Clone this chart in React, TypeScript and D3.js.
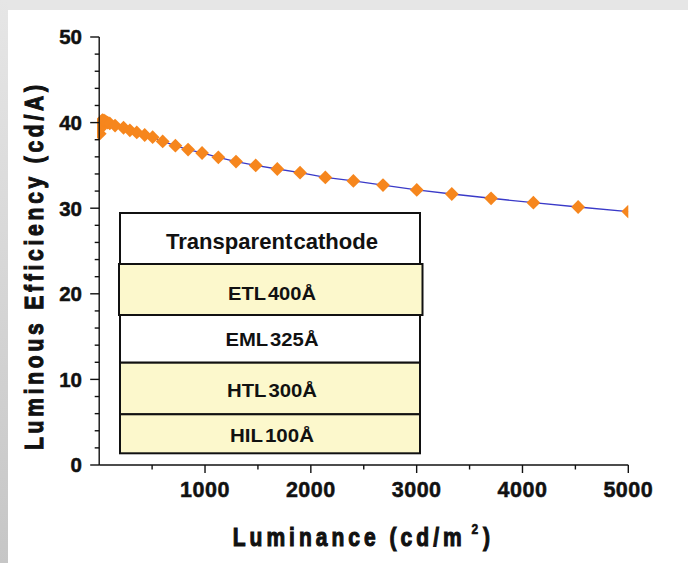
import React from "react";
import * as d3 from "d3";

// Luminous efficiency vs. luminance of a top-emitting device
const luminance = [
  5, 10, 15, 20, 30, 45, 60, 80, 100, 150, 230, 290, 355, 430, 505, 600, 720,
  840, 972, 1126, 1293, 1479, 1683, 1898, 2137, 2402, 2682, 3001, 3332, 3703,
  4103, 4526, 5000,
];
const efficiency = [
  38.7, 39.3, 39.8, 40.1, 40.3, 40.25, 40.15, 40.0, 39.9, 39.65, 39.4, 39.1,
  38.85, 38.55, 38.3, 37.8, 37.3, 36.85, 36.45, 35.95, 35.45, 35.0, 34.58,
  34.15, 33.6, 33.18, 32.7, 32.13, 31.66, 31.16, 30.64, 30.14, 29.6,
];
const yTicks = [0, 10, 20, 30, 40, 50];
const xTicks = [1000, 2000, 3000, 4000, 5000];

// Device stack (top to bottom)
const layerNames = ["Transparent cathode", "ETL 400Å", "EML 325Å", "HTL 300Å", "HIL 100Å"];
const layerShaded = [false, true, false, true, true];

const W = 688;
const H = 563;

export default function App() {
  const x = d3.scaleLinear().domain([0, 5000]).range([99.2, 628.3]);
  const y = d3.scaleLinear().domain([0, 50]).range([465, 37]);

  const pts: [number, number][] = luminance.map((l, i) => [x(l), y(efficiency[i])]);
  const linePath = d3.line()(pts) || "";
  const marker = d3.symbol(d3.symbolSquare, 95)() || "";

  const yMinor = d3.range(0, 50.001, 2).filter((v) => v % 10 !== 0);
  const xMinor = d3.range(500, 5000, 1000);

  // inset geometry
  const rowEdges = [213, 264, 315, 362.7, 414.3, 453.3];
  const rowLeft = [120, 119, 120, 120, 120];
  const rowRight = [420, 422.5, 420, 420, 420];
  const labelBase = [249.3, 300, 346, 396.7, 441.7];
  const labelWidth = [212, 88, 93, 90, 84];
  const labelSize = [22, 18, 18, 18, 18];

  const font = "'Liberation Sans', Arial, sans-serif";
  const heavy = { stroke: "#111", strokeWidth: 0.5, fill: "#111" };
  const heavier = { stroke: "#111", strokeWidth: 0.9, fill: "#111" };

  return (
    <div style={{ position: "absolute", left: 0, top: 0 }}>
      <svg width={W} height={H} style={{ display: "block" }}>
        <defs>
          <linearGradient id="edgeShade" x1="0" y1="0" x2="0" y2="1">
            <stop offset="0" stopColor="#e6e6e6" />
            <stop offset="1" stopColor="#c6c6c6" />
          </linearGradient>
          <clipPath id="plotClip">
            <rect x={97} y={20} width={x(5000) - 97} height={460} />
          </clipPath>
        </defs>
        <rect x={0} y={0} width={W} height={H} fill="#e6e6e6" />
        <rect x={0} y={0} width={8} height={H} fill="url(#edgeShade)" />
        <rect x={8} y={10} width={W - 8} height={H - 10} fill="#ffffff" />

        {/* data */}
        <g clipPath="url(#plotClip)">
          <path d={linePath} fill="none" stroke="#3a3ac8" strokeWidth={1.3} />
          {pts.map((p, i) => (
            <path
              key={i}
              d={marker}
              transform={`translate(${p[0]},${p[1]}) rotate(45)`}
              fill="#f6861d"
            />
          ))}
        </g>

        {/* y axis */}
        <g stroke="#111" strokeWidth={1.4}>
          <line x1={x(0)} x2={x(0)} y1={y(50)} y2={y(0)} />
          {yTicks.map((t) => (
            <line key={t} x1={x(0) - 9} x2={x(0)} y1={y(t)} y2={y(t)} />
          ))}
          {yMinor.map((t) => (
            <line key={t} x1={x(0) - 4.5} x2={x(0)} y1={y(t)} y2={y(t)} />
          ))}
        </g>
        {yTicks.map((t) => (
          <text
            key={t}
            x={82}
            y={y(t)}
            dy="0.36em"
            textAnchor="end"
            fontFamily={font}
            fontWeight="bold"
            fontSize={20.5}
            {...heavy}
          >
            {t}
          </text>
        ))}

        {/* x axis */}
        <g stroke="#111" strokeWidth={1.4}>
          <line x1={x(0)} x2={x(5000)} y1={y(0)} y2={y(0)} />
          {xTicks.map((t) => (
            <line key={t} x1={x(t)} x2={x(t)} y1={y(0)} y2={y(0) + 8} />
          ))}
          {xMinor.map((t) => (
            <line key={t} x1={x(t)} x2={x(t)} y1={y(0)} y2={y(0) + 4.5} />
          ))}
        </g>
        {xTicks.map((t) => (
          <text
            key={t}
            x={x(t)}
            y={497}
            textAnchor="middle"
            fontFamily={font}
            fontWeight="bold"
            fontSize={21.5}
            letterSpacing={0.5}
            {...heavy}
          >
            {t}
          </text>
        ))}

        {/* axis titles: tall, widely tracked lettering */}
        <text
          transform="translate(43,267.5) rotate(-90) scale(1,1.25)"
          textAnchor="middle"
          fontFamily={font}
          fontWeight="bold"
          fontSize={21}
          textLength={365}
          lengthAdjust="spacing"
          {...heavier}
        >
          Luminous Efficiency (cd/A)
        </text>
        <g transform="translate(0,545.7) scale(1,1.25)">
          <text
            x={232.7}
            y={0}
            fontFamily={font}
            fontWeight="bold"
            fontSize={21}
            textLength={229}
            lengthAdjust="spacing"
            {...heavier}
          >
            Luminance (cd/m
          </text>
          <text x={471.5} y={-9} fontFamily={font} fontWeight="bold" fontSize={12} {...heavy}>
            2
          </text>
          <text x={483} y={0} fontFamily={font} fontWeight="bold" fontSize={21} {...heavier}>
            )
          </text>
        </g>

        {/* device stack inset */}
        {layerNames.map((name, i) => (
          <rect
            key={name}
            x={rowLeft[i]}
            y={rowEdges[i]}
            width={rowRight[i] - rowLeft[i]}
            height={rowEdges[i + 1] - rowEdges[i]}
            fill={layerShaded[i] ? "#fcf8cc" : "#ffffff"}
            stroke="#111"
            strokeWidth={2}
          />
        ))}
        {layerNames.map((name, i) => (
          <text
            key={name}
            x={272}
            y={labelBase[i]}
            textAnchor="middle"
            fontFamily={font}
            fontWeight="bold"
            fontSize={labelSize[i]}
            wordSpacing={i === 0 ? -5 : -3}
            textLength={labelWidth[i]}
            lengthAdjust="spacingAndGlyphs"
            fill="#111"
          >
            {name}
          </text>
        ))}
      </svg>
    </div>
  );
}
